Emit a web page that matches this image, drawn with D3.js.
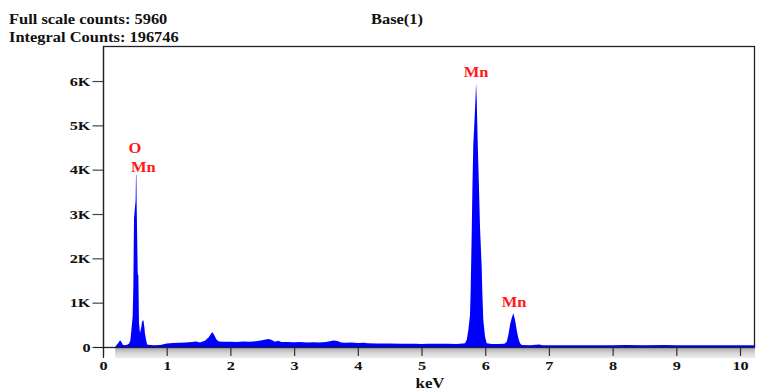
<!DOCTYPE html>
<html>
<head>
<meta charset="utf-8">
<script src="https://cdn.jsdelivr.net/npm/d3@7"></script>
<style>
  body { margin: 0; background: #fff; }
  text { font-family: "Liberation Serif", "Times New Roman", serif; font-weight: bold; }
</style>
</head>
<body>
<div id="chart"></div>
<script>
// spectrum channels (keV / counts)
var energies = [0.19, 0.21, 0.24, 0.267, 0.29, 0.31, 0.34, 0.38, 0.41, 0.43, 0.45, 0.466, 0.476, 0.487, 0.502, 0.512, 0.518, 0.524, 0.529, 0.545, 0.555, 0.565, 0.581, 0.602, 0.612, 0.633, 0.649, 0.659, 0.686, 0.70,
  0.80, 0.90, 1.00, 1.10, 1.20, 1.30, 1.40, 1.45, 1.48, 1.52, 1.60, 1.66, 1.70, 1.72, 1.75, 1.78, 1.82, 1.90,
  2.00, 2.10, 2.20, 2.30, 2.40, 2.50, 2.55, 2.60, 2.65, 2.70, 2.75, 2.80, 2.90, 3.00, 3.10, 3.20, 3.30, 3.40, 3.50, 3.56, 3.62, 3.68, 3.74, 3.80, 3.90,
  4.00, 4.10, 4.15, 4.30, 4.50, 4.70, 4.90, 5.00, 5.10, 5.20, 5.40, 5.55, 5.65,
  5.683, 5.709, 5.735, 5.761, 5.772, 5.788, 5.798, 5.813, 5.835, 5.85, 5.856, 5.861, 5.866, 5.882, 5.903, 5.918, 5.945, 5.955, 5.970, 5.997, 6.023,
  6.10, 6.20, 6.30, 6.311, 6.337, 6.363, 6.389, 6.415, 6.441, 6.468, 6.494, 6.520, 6.546, 6.573,
  6.70, 6.85, 6.90, 7.20, 7.60, 8.00, 8.20, 8.50, 8.80, 9.00, 9.50, 10.00, 10.235];
var counts = [0, 40, 90, 150, 110, 50, 40, 50, 80, 150, 450, 700, 1360, 2900, 3150, 3300, 3880, 3880, 3170, 1650, 1620, 540, 316, 450, 570, 610, 450, 300, 90, 50,
  40, 45, 80, 90, 95, 100, 110, 125, 120, 100, 140, 220, 310, 330, 260, 170, 125, 120,
  120, 115, 125, 120, 130, 150, 170, 180, 160, 120, 140, 110, 115, 105, 110, 100, 105, 100, 110, 130, 145, 135, 100, 95, 100,
  90, 95, 85, 80, 78, 75, 72, 70, 75, 72, 75, 70, 80,
  83, 158, 384, 720, 1290, 2570, 3505, 4560, 5200, 5700, 5960, 5800, 5610, 4600, 3545, 2715, 1785, 1220, 610, 232, 83,
  70, 68, 72, 83, 120, 270, 497, 650, 760, 610, 384, 196, 83, 45,
  40, 55, 40, 38, 38, 38, 45, 42, 45, 40, 38, 38, 38];

var countTicks = [0, 1000, 2000, 3000, 4000, 5000, 6000];
var countTickLabels = ["0", "1K", "2K", "3K", "4K", "5K", "6K"];
var energyTicks = [0, 1, 2, 3, 4, 5, 6, 7, 8, 9, 10];

// element markers: text, keV, counts level of the label baseline
var markerNames = ["O", "Mn", "Mn", "Mn"];
var markerEnergies = [0.50, 0.633, 5.856, 6.452];
var markerLevels = [4380, 3955, 6100, 900];

var headerLines = ["Full scale counts: 5960", "Integral Counts: 196746"];
var title = "Base(1)";

function drawSpectrum() {
  var W = 758, H = 391;
  var svg = d3.select("#chart").append("svg").attr("width", W).attr("height", H);

  var x = d3.scaleLinear().domain([0, 10.235]).range([103, 755]);
  var y = d3.scaleLinear().domain([0, 6790]).range([347, 46]);

  var grad = svg.append("defs").append("linearGradient").attr("id", "band")
    .attr("x1", 0).attr("y1", 0).attr("x2", 0).attr("y2", 1);
  grad.append("stop").attr("offset", "0%").attr("stop-color", "#a4a4a4");
  grad.append("stop").attr("offset", "55%").attr("stop-color", "#d6d6d6");
  grad.append("stop").attr("offset", "100%").attr("stop-color", "#eeeeee");

  // grey strip under the axis, where the spectrum has data
  svg.append("rect")
    .attr("x", x(energies[0])).attr("y", 347)
    .attr("width", x.range()[1] - x(energies[0])).attr("height", 11)
    .attr("fill", "url(#band)");

  svg.append("rect")
    .attr("x", 103.5).attr("y", 46.5).attr("width", 651).attr("height", 301)
    .attr("fill", "none").attr("stroke", "#222").attr("stroke-width", 1.3);

  var pts = energies.map(function(e, i) { return [e, counts[i]]; });
  var area = d3.area()
    .x(function(d) { return x(d[0]); })
    .y0(y(0))
    .y1(function(d) { return y(d[1]); });
  svg.append("path").datum(pts).attr("d", area).attr("fill", "#0000ff");

  // axes
  var yAxis = d3.axisLeft(y).tickValues(countTicks).tickSize(11).tickPadding(2)
    .tickFormat(function(d, i) { return countTickLabels[i]; });
  var gy = svg.append("g").attr("transform", "translate(103.5,0)").call(yAxis);
  gy.select(".domain").remove();
  gy.selectAll("line").attr("stroke", "#444").attr("stroke-width", 1.2);
  gy.selectAll("text").attr("font-size", 13).attr("fill", "#111")
    .attr("font-family", "Liberation Serif").attr("font-weight", "bold")
    .attr("transform", "scale(1.25,1)").attr("x", -13 / 1.25);

  var xAxis = d3.axisBottom(x).tickValues(energyTicks).tickSize(9).tickPadding(5)
    .tickFormat(d3.format("d"));
  var gx = svg.append("g").attr("transform", "translate(0,347)").call(xAxis);
  gx.select(".domain").remove();
  gx.selectAll("line").attr("stroke", "#333").attr("stroke-width", 1.2);
  gx.selectAll("text").attr("font-size", 13).attr("fill", "#111")
    .attr("font-family", "Liberation Serif").attr("font-weight", "bold")
    .attr("transform", "scale(1.25,1)");

  svg.append("line").attr("x1", 93).attr("x2", 755).attr("y1", 347.5).attr("y2", 347.5)
    .attr("stroke", "#222").attr("stroke-width", 1.2);
  svg.append("line").attr("x1", 103.5).attr("x2", 103.5).attr("y1", 46).attr("y2", 358)
    .attr("stroke", "#222").attr("stroke-width", 1.2);

  // element labels
  svg.selectAll(".marker").data(markerNames).enter().append("text")
    .attr("class", "marker")
    .attr("transform", function(d, i) {
      return "translate(" + x(markerEnergies[i]) + "," + y(markerLevels[i]) + ") scale(1.1,1)";
    })
    .attr("text-anchor", "middle").attr("font-size", 15).attr("fill", "#ff1a1a")
    .text(function(d) { return d; });

  svg.selectAll(".header").data(headerLines).enter().append("text")
    .attr("class", "header")
    .attr("transform", function(d, i) { return "translate(9," + (24 + i * 17.5) + ") scale(1.06,1)"; })
    .attr("font-size", 15.5).attr("fill", "#111")
    .text(function(d) { return d; });

  svg.append("text").attr("transform", "translate(371,24) scale(1.06,1)")
    .attr("font-size", 15.5).attr("fill", "#111").text(title);

  svg.append("text").attr("transform", "translate(430,388) scale(1.12,1)")
    .attr("text-anchor", "middle").attr("font-size", 15).attr("fill", "#111").text("keV");
}

drawSpectrum();
</script>
</body>
</html>
